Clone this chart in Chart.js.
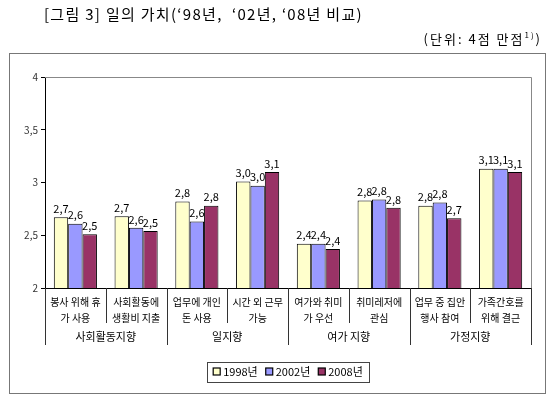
<!DOCTYPE html>
<html>
<head>
<meta charset="utf-8">
<script src="https://cdn.jsdelivr.net/npm/chart.js@4"></script>
<style>
  body { margin: 0; background: #fff; }
  canvas { display: block; }
</style>
</head>
<body>
<canvas id="barChart" width="550" height="396"></canvas>
<script>
// 항목 (두 줄 라벨)
const categories = [
    ['봉사 위해 휴', '가 사용'],
    ['사회활동에', '생활비 지출'],
    ['업무에 개인', '돈 사용'],
    ['시간 외 근무', '가능'],
    ['여가와 취미', '가 우선'],
    ['취미레저에', '관심'],
    ['업무 중 집안', '행사 참여'],
    ['가족간호를', '위해 결근']
];
const groups = ['사회활동지향', '일지향', '여가 지향', '가정지향'];
const groupSize = [2, 2, 2, 2];

const seriesNames = ['1998년', '2002년', '2008년'];
const v1998 = [2.67, 2.68, 2.82, 3.01, 2.42, 2.83, 2.78, 3.13];
const v2002 = [2.61, 2.57, 2.63, 2.97, 2.42, 2.84, 2.81, 3.13];
const v2008 = [2.51, 2.54, 2.78, 3.10, 2.37, 2.76, 2.66, 3.10];
const seriesColors = ['#FFFFCC', '#9999FF', '#993366'];

const FONT = '"Noto Sans CJK KR", "Noto Sans", sans-serif';
const comma = v => v.toFixed(1).replace('.', ',');

const decor = {
    id: 'decor',
    beforeDraw(chart) {
        const c = chart.ctx;
        c.save();
        c.fillStyle = '#fff';
        c.fillRect(0, 0, chart.width, chart.height);
        c.restore();
    },
    afterDatasetsDraw(chart) {
        const c = chart.ctx;
        c.save();
        c.font = '11px ' + FONT;
        c.fillStyle = '#000';
        c.textAlign = 'center';
        c.textBaseline = 'bottom';
        chart.data.datasets.forEach((ds, i) => {
            chart.getDatasetMeta(i).data.forEach((el, j) => {
                c.fillText(comma(ds.data[j]), el.x, el.y - 3);
            });
        });
        c.restore();
    },
    afterDraw(chart) {
        const c = chart.ctx;
        const a = chart.chartArea;
        c.save();

        // 제목
        c.fillStyle = '#000';
        c.textBaseline = 'middle';
        c.textAlign = 'left';
        c.font = '15px ' + FONT;
        c.letterSpacing = '1.3px';
        c.fillText('[그림 3] 일의 가치(‘98년,  ‘02년, ‘08년 비교)', 44, 14);

        // 단위 (오른쪽 정렬, 위첨자 포함)
        c.letterSpacing = '2px';
        c.font = '13px ' + FONT;
        const p1 = '(단위: 4점 만점', p3 = ')';
        c.font = '8px ' + FONT;
        const w2 = c.measureText('1)').width;
        c.font = '13px ' + FONT;
        const w1 = c.measureText(p1).width, w3 = c.measureText(p3).width;
        let sx = 542 - (w1 + w2 + w3);
        c.fillText(p1, sx, 39);
        sx += w1;
        c.font = '8px ' + FONT;
        c.fillText('1)', sx, 35);
        sx += w2;
        c.font = '13px ' + FONT;
        c.fillText(p3, sx, 39);
        c.letterSpacing = '0px';

        // 바깥 테두리
        c.strokeStyle = '#777';
        c.lineWidth = 1;
        c.strokeRect(9.5, 53.5, 536, 340);

        // 그림 영역 테두리 (위, 오른쪽)
        c.strokeStyle = '#888';
        c.beginPath();
        c.moveTo(a.left, a.top + 0.5);
        c.lineTo(a.right + 0.5, a.top + 0.5);
        c.lineTo(a.right + 0.5, a.bottom);
        c.stroke();

        // 항목 구분선과 그룹 라벨
        const step = (a.right - a.left) / categories.length;
        c.strokeStyle = '#333';
        let k = 0;
        const bounds = [0];
        groupSize.forEach(n => { k += n; bounds.push(k); });
        for (let i = 0; i <= categories.length; i++) {
            const px = Math.round(a.left + step * i) + 0.5;
            const long = bounds.includes(i);
            c.beginPath();
            c.moveTo(px, a.bottom);
            c.lineTo(px, a.bottom + (long ? 57 : 35));
            c.stroke();
        }
        c.font = '11px ' + FONT;
        c.textAlign = 'center';
        c.fillStyle = '#000';
        groups.forEach((g, i) => {
            const cx = a.left + step * (bounds[i] + bounds[i + 1]) / 2;
            c.fillText(g, cx, a.bottom + 49);
        });

        // 범례
        c.font = '11px ' + FONT;
        c.textAlign = 'left';
        const sq = 7, gap = 3, itemGap = 8;
        const widths = seriesNames.map(s => sq + gap + c.measureText(s).width);
        const total = widths.reduce((p, q) => p + q, 0) + itemGap * (seriesNames.length - 1);
        const lx0 = (a.left + a.right) / 2 - total / 2;
        const ly = 372;
        c.strokeStyle = '#444';
        c.strokeRect(Math.round(lx0 - 6) + 0.5, 362.5, Math.round(total + 12), 20);
        let lx = lx0;
        seriesNames.forEach((s, i) => {
            c.fillStyle = seriesColors[i];
            c.fillRect(lx, ly - 4, sq, sq);
            c.strokeStyle = '#000';
            c.lineWidth = 1.2;
            c.strokeRect(lx, ly - 4, sq, sq);
            c.fillStyle = '#000';
            c.fillText(s, lx + sq + gap, ly);
            lx += widths[i] + itemGap;
        });
        c.restore();
    }
};

const ctx = document.getElementById('barChart').getContext('2d');
const barChart = new Chart(ctx, {
    type: 'bar',
    data: {
        labels: categories,
        datasets: [v1998, v2002, v2008].map((d, i) => ({
            label: seriesNames[i],
            data: d,
            backgroundColor: seriesColors[i],
            borderColor: '#000',
            borderWidth: 1,
            categoryPercentage: 0.71,
            barPercentage: 1.0
        }))
    },
    options: {
        responsive: false,
        animation: false,
        layout: { padding: { top: 77, right: 19, bottom: 38, left: 0 } },
        plugins: {
            legend: { display: false },
            tooltip: { enabled: false }
        },
        scales: {
            x: {
                grid: { display: false, tickLength: 0 },
                border: { display: true, color: '#000' },
                ticks: {
                    color: '#000',
                    font: { family: FONT, size: 10, lineHeight: 1.6 },
                    padding: 6,
                    maxRotation: 0,
                    autoSkip: false
                },
                afterFit: s => { s.height = 70; }
            },
            y: {
                min: 2,
                max: 4,
                ticks: {
                    stepSize: 0.5,
                    color: '#333',
                    font: { family: FONT, size: 10 },
                    padding: 3,
                    callback: v => String(v).replace('.', ',')
                },
                grid: { drawOnChartArea: false, tickLength: 4, color: '#000' },
                border: { display: true, color: '#000' },
                afterFit: s => { s.width = 45; }
            }
        }
    },
    plugins: [decor]
});
</script>
</body>
</html>
